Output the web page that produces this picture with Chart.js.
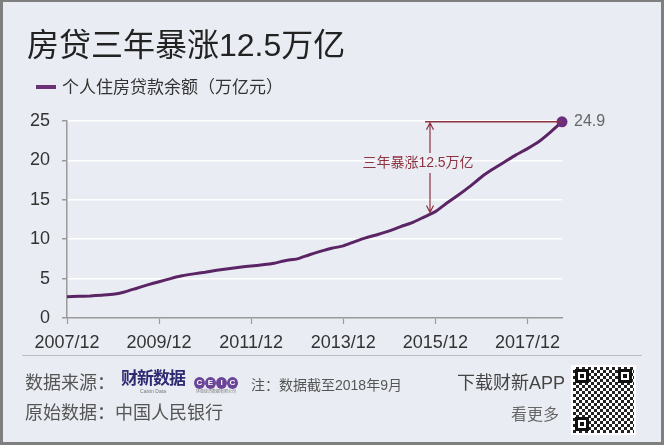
<!DOCTYPE html>
<html>
<head>
<meta charset="utf-8">
<script src="https://cdn.jsdelivr.net/npm/chart.js@4.4.1/dist/chart.umd.min.js"></script>
<style>
  html, body { margin: 0; padding: 0; background: #fff; }
  body { width: 664px; height: 448px; position: relative; overflow: hidden;
         font-family: "Liberation Sans", "Noto Sans CJK SC", sans-serif; }
  #frame { position: absolute; left: 0; top: 0; width: 664px; height: 445px; box-sizing: border-box;
           background: #e9edf3; border: 3px solid #7f7f7f; border-top-width: 2px; }
  #chart { position: absolute; left: 0; top: 0; }
  .txt { position: absolute; white-space: nowrap; }
  #title { left: 27px; top: 25px; font-size: 32px; line-height: 40px; color: #222; }
  #legend { left: 36px; top: 77px; font-size: 17px; line-height: 22px; color: #333; }
  #legend .swatch { display: inline-block; width: 20px; height: 4px; background: #6a3176;
                    vertical-align: middle; margin: -3px 6px 0 0; }
  #sep { position: absolute; left: 22px; top: 355px; width: 620px; height: 1px; background: #b9bcc2; }
  .foot { font-size: 18px; color: #555; line-height: 22px; }
  #cxLogo { left: 121px; top: 370px; color: #2f2b73; font-weight: bold; font-size: 17px; line-height: 18px;
            letter-spacing: -1px; text-align: center; }
  #cxLogo small { display: block; font-size: 5px; line-height: 6px; color: #777; font-weight: normal; letter-spacing: 0; }
  #ceic { left: 194px; top: 371px; text-align: center; }
  #ceic b { display: inline-block; width: 11px; height: 12px; border-radius: 50%; background: #6a4597;
            color: #fff; font-size: 8px; line-height: 12px; margin-right: 0; }
  #ceic small { display: block; font-size: 4px; line-height: 6px; color: #777; }
  #note { left: 251px; top: 374px; font-size: 14px; color: #555; }
  #qr { position: absolute; left: 571px; top: 365px; width: 65px; height: 70px; background: #fff;
        background-image: repeating-conic-gradient(#222 0 25%, #fff 0 50%);
        background-size: 6px 6px; border: 2px solid #fff; box-sizing: border-box; }
  #qr i { position: absolute; width: 14px; height: 14px; border: 3px solid #111; background: #fff;
          box-sizing: border-box; }
  #qr i::after { content: ""; position: absolute; left: 2px; top: 2px; width: 4px; height: 4px; background: #111; }
</style>
</head>
<body>
<div id="frame"></div>
<canvas id="chart" width="664" height="448"></canvas>
<div class="txt" id="title">房贷三年暴涨12.5万亿</div>
<div class="txt" id="legend"><span class="swatch"></span>个人住房贷款余额（万亿元）</div>
<div id="sep"></div>
<div class="txt foot" style="left:25px; top:372px;">数据来源：</div>
<div class="txt" id="cxLogo">财新数据<small>Caixin Data</small></div>
<div class="txt" id="ceic"><b>C</b><b>E</b><b>I</b><b>C</b><small>环亚经济数据有限公司</small></div>
<div class="txt" id="note">注：数据截至2018年9月</div>
<div class="txt foot" style="left:457px; top:372px; color:#444;">下载财新APP</div>
<div id="qr"><i style="left:2px;top:2px"></i><i style="right:2px;top:2px"></i><i style="left:2px;bottom:2px"></i></div>
<div class="txt foot" style="left:25px; top:402px;">原始数据：中国人民银行</div>
<div class="txt foot" style="left:511px; top:404px; font-size:16px; color:#666;">看更多</div>

<script>
// months after 2007/12, one point per quarter end
const months = [0, 3, 6, 9, 12, 15, 18, 21, 24, 27, 30, 33, 36, 39, 42, 45, 48, 51, 54, 57, 60, 63,
  66, 69, 72, 75, 78, 81, 84, 87, 90, 93, 96, 99, 102, 105, 108, 111, 114, 117, 120, 123, 126, 129];
// 个人住房贷款余额 (万亿元)
const balance = [2.7, 2.75, 2.8, 2.9, 3.0, 3.3, 3.75, 4.2, 4.6, 5.0, 5.35, 5.6, 5.8, 6.05, 6.25, 6.45,
  6.6, 6.75, 6.95, 7.3, 7.5, 8.0, 8.45, 8.85, 9.15, 9.7, 10.2, 10.6, 11.05, 11.6, 12.1, 12.8,
  13.5, 14.6, 15.6, 16.7, 17.9, 18.9, 19.8, 20.7, 21.5, 22.4, 23.6, 24.9];
const xTickMonths = [0, 24, 48, 72, 96, 120];
const xTickLabels = ["2007/12", "2009/12", "2011/12", "2013/12", "2015/12", "2017/12"];
const yTicks = [0, 5, 10, 15, 20, 25];

// annotation: 三年暴涨12.5万亿
const annText = "三年暴涨12.5万亿";
const annMonth = 94.6;
const annStartMonth = 93.3;
const annBottomValue = 13.4;

const lineColor = "#5a2465";
const annColor = "#8e3340";

const annotate = {
  id: "annotate",
  afterDatasetsDraw(chart) {
    const { ctx } = chart;
    const x = chart.scales.x, y = chart.scales.y;
    const last = balance.length - 1;
    const ex = x.getPixelForValue(months[last]);
    const ey = y.getPixelForValue(balance[last]);
    const ax = x.getPixelForValue(annMonth);
    const sx = x.getPixelForValue(annStartMonth);
    const by = y.getPixelForValue(annBottomValue);

    ctx.save();
    ctx.strokeStyle = annColor;
    ctx.lineWidth = 1.5;
    // horizontal line from the arrow to the end point
    ctx.beginPath();
    ctx.moveTo(sx, ey);
    ctx.lineTo(ex, ey);
    ctx.stroke();

    // vertical double arrow, broken by the text
    const ty = (ey + by) / 2 - 4;
    ctx.lineWidth = 1.2;
    ctx.beginPath();
    ctx.moveTo(ax, ey + 1);
    ctx.lineTo(ax, ty - 10);
    ctx.moveTo(ax, ty + 10);
    ctx.lineTo(ax, by);
    // heads
    ctx.moveTo(ax - 3.5, ey + 8);
    ctx.lineTo(ax, ey + 1);
    ctx.lineTo(ax + 3.5, ey + 8);
    ctx.moveTo(ax - 3.5, by - 7);
    ctx.lineTo(ax, by);
    ctx.lineTo(ax + 3.5, by - 7);
    ctx.stroke();

    ctx.fillStyle = annColor;
    ctx.font = '14px "Liberation Sans", "Noto Sans CJK SC"';
    ctx.textAlign = "center";
    ctx.textBaseline = "middle";
    ctx.fillText(annText, ax - 12, ty);

    // value label at the end point
    ctx.fillStyle = "#666";
    ctx.font = '16px "Liberation Sans"';
    ctx.textAlign = "left";
    ctx.fillText(balance[last].toFixed(1), ex + 12, ey);
    ctx.restore();
  }
};

const ctx = document.getElementById("chart").getContext("2d");
new Chart(ctx, {
  type: "line",
  data: {
    datasets: [{
      label: "个人住房贷款余额（万亿元）",
      data: months.map((m, i) => ({ x: m, y: balance[i] })),
      borderColor: lineColor,
      borderWidth: 3,
      tension: 0.15,
      clip: false,
      pointRadius: (c) => (c.dataIndex === balance.length - 1 ? 5.5 : 0),
      pointBackgroundColor: "#6b2d7c",
      pointBorderWidth: 0,
    }],
  },
  options: {
    responsive: false,
    animation: false,
    devicePixelRatio: 1,
    layout: { padding: { left: 0, right: 102, top: 121, bottom: 90 } },
    plugins: { legend: { display: false }, tooltip: { enabled: false } },
    scales: {
      x: {
        type: "linear",
        min: 0,
        max: 129,
        afterBuildTicks: (s) => { s.ticks = xTickMonths.map((v) => ({ value: v })); },
        afterFit: (s) => { s.height = 40; },
        ticks: {
          autoSkip: false,
          maxRotation: 0,
          padding: 8,
          color: "#333",
          font: { size: 18, family: "Liberation Sans" },
          callback: (v) => xTickLabels[xTickMonths.indexOf(v)],
        },
        grid: { drawOnChartArea: false, tickLength: 6, tickColor: "#9a9a9a", tickWidth: 1.2 },
        border: { color: "#9a9a9a", width: 1.5 },
      },
      y: {
        min: 0,
        max: 25,
        afterBuildTicks: (s) => { s.ticks = yTicks.map((v) => ({ value: v })); },
        afterFit: (s) => { s.width = 67; },
        ticks: {
          padding: 12,
          color: "#333",
          font: { size: 18, family: "Liberation Sans" },
        },
        grid: {
          color: (c) => (c.tick && c.tick.value === 0 ? "rgba(0,0,0,0)" : "#ffffff"),
          lineWidth: 1.5,
          tickLength: 5,
          tickColor: "#9a9a9a",
        },
        border: { color: "#9a9a9a", width: 1.5 },
      },
    },
  },
  plugins: [annotate],
});
</script>
</body>
</html>
